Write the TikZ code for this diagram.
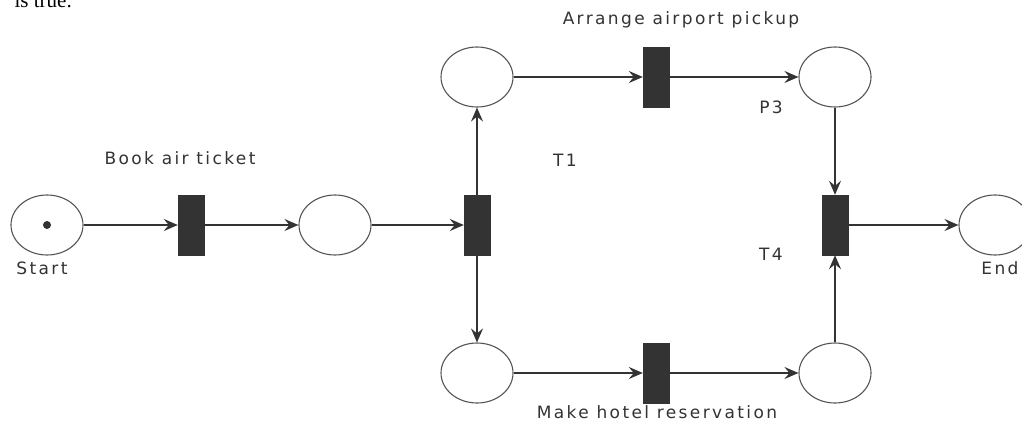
\documentclass[tikz,border=0pt]{standalone}
\usepackage{fontspec}
\setmainfont{Liberation Serif}
\newfontfamily\labelfont[LetterSpace=14]{DejaVu Sans}
\usetikzlibrary{shapes.geometric,arrows.meta}
\definecolor{ink}{HTML}{333333}
\definecolor{rim}{HTML}{555555}
\tikzset{
  place/.style={ellipse,draw=rim,line width=1.1pt,fill=white,minimum width=72pt,minimum height=60pt,inner sep=0pt},
  trans/.style={rectangle,draw=ink,fill=ink,minimum width=26pt,minimum height=60pt,inner sep=0pt},
  arc/.style={draw=ink,line width=1.4pt,-{Stealth[length=14pt,width=12pt,inset=5pt]}},
  lbl/.style={font=\labelfont\fontsize{17}{17}\selectfont,text=ink,inner sep=0pt},
  token/.style={circle,fill=ink,minimum size=8pt,inner sep=0pt}
}
\begin{document}
\begin{tikzpicture}[x=1pt,y=-1pt]
\useasboundingbox (0,0) rectangle (1022,425);
\clip (0,0) rectangle (1022,425);
\fill[white] (0,0) rectangle (1022,425);

% tail of the preceding sentence
\node[anchor=base east,inner sep=0pt,font=\fontsize{21}{21}\selectfont] (prev) at (72,8) {is true.};

% places
\node[place] (start) at (47,225) {};
\node[token] (tok) at (47,225) {};
\node[place] (p1) at (335,225) {};
\node[place] (p2) at (477,77) {};
\node[place] (p3) at (835,77) {};
\node[place] (p4) at (477,373) {};
\node[place] (p5) at (835,373) {};
\node[place] (end) at (995,225) {};

% transitions
\node[trans] (t0) at (191,225) {};
\node[trans] (t1) at (477,225) {};
\node[trans] (t2) at (656,77) {};
\node[trans] (t3) at (656,373) {};
\node[trans] (t4) at (835,225) {};

% arcs
\draw[arc] (start) -- (t0);
\draw[arc] (t0) -- (p1);
\draw[arc] (p1) -- (t1);
\draw[arc] (t1) -- (p2);
\draw[arc] (t1) -- (p4);
\draw[arc] (p2) -- (t2);
\draw[arc] (t2) -- (p3);
\draw[arc] (p4) -- (t3);
\draw[arc] (t3) -- (p5);
\draw[arc] (p3) -- (t4);
\draw[arc] (p5) -- (t4);
\draw[arc] (t4) -- (end);

% labels
\node[lbl] (lstart) at (42,268) {Start};
\node[lbl] (lbook) at (180,158) {Book air ticket};
\node[lbl] (larr) at (681,20) {Arrange airport pickup};
\node[lbl] (lhot) at (657,412) {Make hotel reservation};
\node[lbl] (lt1) at (565,160) {T1};
\node[lbl] (lp3) at (771,107) {P3};
\node[lbl] (lt4) at (771,254) {T4};
\node[lbl] (lend) at (1000,268) {End};
\end{tikzpicture}
\end{document}
